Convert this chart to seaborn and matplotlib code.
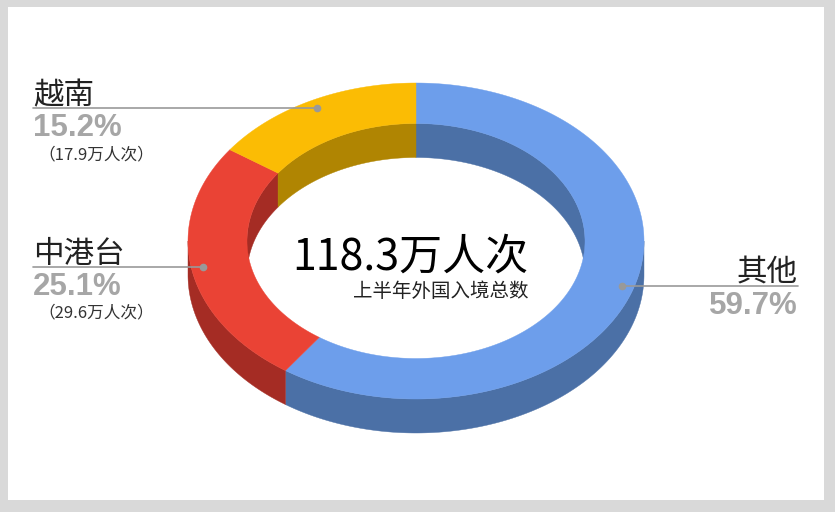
import numpy as np
import matplotlib
matplotlib.use('Agg')
import matplotlib.pyplot as plt
from matplotlib.patches import Polygon, Rectangle
import seaborn as sns

# --- dados ---
labels = ['其他', '中港台', '越南']
shares = [59.7, 25.1, 15.2]
counts = ['', '29.6', '17.9']
total_text = '118.3万人次'
subtitle = '上半年外国入境总数'

top_colors = ['#6d9eeb', '#ea4335', '#fbbc04']
side_colors = ['#4b70a6', '#a52c24', '#b08502']

sns.set_theme(style='white')
plt.rcParams['font.family'] = ['Noto Sans CJK SC', 'DejaVu Sans']

W, H = 835, 512
fig = plt.figure(figsize=(W / 100, H / 100), dpi=100, facecolor='#d9d9d9')
ax = fig.add_axes([0, 0, 1, 1])
ax.set_xlim(0, W)
ax.set_ylim(H, 0)
ax.axis('off')
ax.add_patch(Rectangle((8, 7), 816, 493, facecolor='white', edgecolor='none', zorder=0))

# geometria do anel (pixels)
cx, cy = 416, 241
a_out, b_out = 228, 158
a_in, b_in = 169, 117.5
depth = 34


def pts(a, b, t, dy=0):
    t = np.radians(t)
    return np.column_stack([cx + a * np.sin(t), cy - b * np.cos(t) + dy])


bounds = np.concatenate([[0], np.cumsum(shares) / np.sum(shares) * 360])

# paredes externas (metade frontal: 90..270)
for i in range(len(shares)):
    t0, t1 = max(bounds[i], 90), min(bounds[i + 1], 270)
    if t1 > t0:
        t = np.linspace(t0, t1, 200)
        poly = np.vstack([pts(a_out, b_out, t), pts(a_out, b_out, t[::-1], depth)])
        ax.add_patch(Polygon(poly, closed=True, facecolor=side_colors[i], edgecolor=side_colors[i], lw=0.3, zorder=1))

# paredes internas (metade traseira: 270..360 e 0..90)
for i in range(len(shares)):
    for lo, hi in [(0, 90), (270, 360)]:
        t0, t1 = max(bounds[i], lo), min(bounds[i + 1], hi)
        if t1 > t0:
            t = np.linspace(t0, t1, 200)
            poly = np.vstack([pts(a_in, b_in, t), pts(a_in, b_in, t[::-1], depth)])
            ax.add_patch(Polygon(poly, closed=True, facecolor=side_colors[i], edgecolor=side_colors[i], lw=0.3, zorder=1))

# superfície superior
for i in range(len(shares)):
    t = np.linspace(bounds[i], bounds[i + 1], 300)
    poly = np.vstack([pts(a_out, b_out, t), pts(a_in, b_in, t[::-1])])
    ax.add_patch(Polygon(poly, closed=True, facecolor=top_colors[i], edgecolor=top_colors[i], lw=0.3, zorder=2))

# rótulos com linhas de chamada
line_c = '#999999'
pct_c = '#a6a6a6'
r_mid = 0.947
for i in range(len(shares)):
    mid = (bounds[i] + bounds[i + 1]) / 2
    px, py = pts(a_out * r_mid, b_out * r_mid, [mid])[0]
    if px > cx:
        x_end, ha, xt = 798, 'right', 798
    else:
        x_end, ha, xt = 33, 'left', 33
    ax.plot([px, x_end], [py, py], color=line_c, lw=1.2, zorder=3)
    ax.plot(px, py, 'o', color=line_c, ms=4.5, zorder=4)
    ax.text(xt, py - 4, labels[i], ha=ha, va='baseline', fontsize=22,
            fontweight='light', color='#222222', zorder=4)
    ax.text(xt, py + 28, f'{shares[i]:.1f}%', ha=ha, va='baseline', fontsize=22.5,
            fontweight='bold', family='Liberation Sans', color=pct_c, zorder=4)
    if counts[i]:
        ax.text(xt + 5, py + 51, f'（{counts[i]}万人次）', ha='left', va='baseline',
                fontsize=12, fontweight='light', color='#333333', zorder=4)

# texto central
ax.text(528, 270, total_text, ha='right', va='baseline', fontsize=31, color='black', zorder=4)
ax.text(528, 297, subtitle, ha='right', va='baseline', fontsize=14, color='#222222', zorder=4)

fig.savefig('out.png', dpi=100, facecolor=fig.get_facecolor())
